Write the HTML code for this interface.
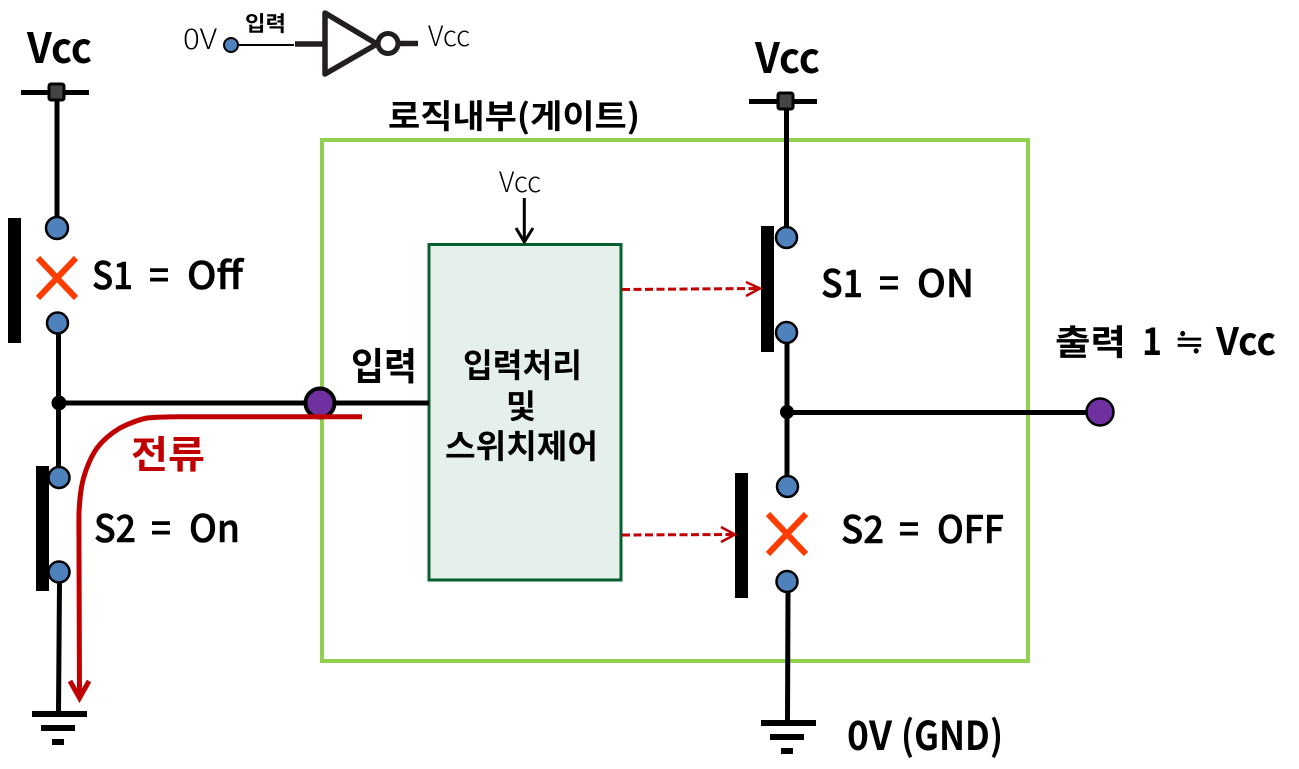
<!DOCTYPE html>
<html><head><meta charset="utf-8"><style>
html,body{margin:0;padding:0;background:#fff;width:1299px;height:769px;overflow:hidden}
svg{display:block}
text{font-family:"Noto Sans CJK KR","NanumGothic",sans-serif;fill:#000}
.b{font-weight:700}
.m{font-weight:500;stroke:#000;stroke-width:.6}
.l{font-weight:300}
</style></head><body>
<svg width="1299" height="769" viewBox="0 0 1299 769" xmlns="http://www.w3.org/2000/svg">
<defs>
<g id="gnd"><rect x="0" y="0" width="55" height="6"/><rect x="9" y="14" width="34" height="6"/><rect x="20" y="28" width="12" height="6"/></g>
</defs>
<!-- green frame -->
<rect x="322" y="140" width="706" height="521" fill="none" stroke="#92D050" stroke-width="4"/>
<!-- box -->
<rect x="429" y="244.500" width="192" height="335.500" fill="#E6F0EA" stroke="#06602F" stroke-width="3"/>

<!-- left circuit -->
<rect x="21" y="90" width="68" height="5"/>
<line x1="57" y1="92" x2="57" y2="222" stroke="#000" stroke-width="5"/>
<rect x="49" y="84" width="15" height="16" fill="#444" stroke="#000" stroke-width="3" rx="2"/>
<rect x="8" y="218" width="13" height="125"/>
<circle cx="57" cy="228" r="11" fill="#4F81BD" stroke="#000" stroke-width="2.500"/>
<path d="M38 258L76 298M76 258L38 298" stroke="#FF3C00" stroke-width="6" fill="none"/>
<circle cx="57.500" cy="323" r="10.500" fill="#4F81BD" stroke="#000" stroke-width="2.500"/>
<line x1="58.500" y1="333" x2="58.500" y2="470" stroke="#000" stroke-width="5"/>
<circle cx="59" cy="403" r="7.500"/>
<line x1="59" y1="403" x2="429" y2="403" stroke="#000" stroke-width="5"/>
<rect x="36" y="466" width="13" height="125"/>
<circle cx="59" cy="477.500" r="10.500" fill="#4F81BD" stroke="#000" stroke-width="2.500"/>
<circle cx="59" cy="572" r="10.500" fill="#4F81BD" stroke="#000" stroke-width="2.500"/>
<path d="M59.500 582L58.500 712" stroke="#000" stroke-width="5"/>
<use href="#gnd" x="32" y="711"/>
<circle cx="320" cy="403" r="14.500" fill="#7030A0" stroke="#000" stroke-width="4"/>
<!-- current -->
<path d="M362 416.700H180C165 416.700 156 417 147 418C137 420 128 424 120 428C110 434 103 440 97 448C90 458 86 469 83 480C80 492 79.500 503 79 513C78.800 525 79 535 79 547L79.500 696" fill="none" stroke="#C00000" stroke-width="5"/>
<path d="M70 681L79.500 698L89 681" fill="none" stroke="#C00000" stroke-width="5"/>

<!-- right circuit -->
<rect x="749" y="99" width="68" height="5"/>
<line x1="786.500" y1="102" x2="786.500" y2="232" stroke="#000" stroke-width="5"/>
<rect x="778" y="93" width="15" height="16" fill="#444" stroke="#000" stroke-width="3" rx="2"/>
<rect x="761" y="226" width="13" height="126"/>
<circle cx="786.500" cy="237.500" r="10.500" fill="#4F81BD" stroke="#000" stroke-width="2.500"/>
<circle cx="786.500" cy="332.500" r="10.500" fill="#4F81BD" stroke="#000" stroke-width="2.500"/>
<line x1="787" y1="343" x2="787" y2="480" stroke="#000" stroke-width="5"/>
<circle cx="787" cy="412" r="7"/>
<line x1="787" y1="412.500" x2="1090" y2="412.500" stroke="#000" stroke-width="5"/>
<circle cx="1100" cy="412" r="13.500" fill="#7030A0" stroke="#000" stroke-width="2.500"/>
<rect x="735" y="473" width="13" height="125"/>
<circle cx="787.500" cy="486.500" r="10.500" fill="#4F81BD" stroke="#000" stroke-width="2.500"/>
<path d="M768 514L806 554M806 514L768 554" stroke="#FF3C00" stroke-width="6" fill="none"/>
<circle cx="787" cy="581.500" r="10.500" fill="#4F81BD" stroke="#000" stroke-width="2.500"/>
<path d="M788 591L787.500 722" stroke="#000" stroke-width="5"/>
<use href="#gnd" x="761" y="720"/>

<!-- dashed red -->
<line x1="622" y1="289.500" x2="758" y2="288.500" stroke="#C00000" stroke-width="3" stroke-dasharray="8 3.500"/>
<path d="M746 282L760 288.500L746 296" fill="none" stroke="#C00000" stroke-width="2.500"/>
<line x1="622" y1="535" x2="734" y2="534.500" stroke="#C00000" stroke-width="3" stroke-dasharray="8 3.500"/>
<path d="M721 527L735 534.500L721 542" fill="none" stroke="#C00000" stroke-width="2.500"/>

<!-- vcc arrow into box -->
<line x1="524.300" y1="198" x2="524.300" y2="242" stroke="#000" stroke-width="3"/>
<path d="M516 228L524.300 242L533 228" fill="none" stroke="#000" stroke-width="3"/>

<!-- inverter -->
<circle cx="231" cy="45" r="7" fill="#4F81BD" stroke="#000" stroke-width="2"/>
<line x1="238" y1="45" x2="294" y2="45" stroke="#000" stroke-width="2"/>
<line x1="295" y1="44" x2="326" y2="44" stroke="#231F20" stroke-width="5.500"/>
<path d="M325 13V74L377 44Z" fill="#fff" stroke="#231F20" stroke-width="5.500" stroke-linejoin="round"/>
<circle cx="388" cy="43.500" r="10" fill="#fff" stroke="#231F20" stroke-width="5"/>
<line x1="399" y1="43.500" x2="418" y2="43.500" stroke="#231F20" stroke-width="5.500"/>

<!-- labels -->
<text class="b" x="27" y="63" font-size="42" textLength="65" lengthAdjust="spacingAndGlyphs">Vcc</text>
<text class="b" x="755" y="73" font-size="42" textLength="65" lengthAdjust="spacingAndGlyphs">Vcc</text>
<text class="l" x="183" y="49" font-size="28" textLength="34" lengthAdjust="spacingAndGlyphs">0V</text>
<text class="l" x="428" y="46" font-size="28" textLength="42" lengthAdjust="spacingAndGlyphs">Vcc</text>
<text class="l" x="499" y="192" font-size="28" textLength="42" lengthAdjust="spacingAndGlyphs">Vcc</text>
<text class="b" x="245" y="31" font-size="21" textLength="41" lengthAdjust="spacingAndGlyphs">입력</text>
<text class="b" x="388" y="128" font-size="33" textLength="252" lengthAdjust="spacingAndGlyphs">로직내부(게이트)</text>

<text class="m" x="92" y="289" font-size="38" textLength="41" lengthAdjust="spacingAndGlyphs">S1</text>
<text class="m" x="149" y="289" font-size="38" textLength="20" lengthAdjust="spacingAndGlyphs">=</text>
<text class="m" x="187" y="289" font-size="38" textLength="56" lengthAdjust="spacingAndGlyphs">Off</text>

<text class="m" x="94" y="542" font-size="38" textLength="42" lengthAdjust="spacingAndGlyphs">S2</text>
<text class="m" x="151" y="542" font-size="38" textLength="20" lengthAdjust="spacingAndGlyphs">=</text>
<text class="m" x="189" y="542" font-size="38" textLength="51" lengthAdjust="spacingAndGlyphs">On</text>

<text class="m" x="821" y="297" font-size="38" textLength="42" lengthAdjust="spacingAndGlyphs">S1</text>
<text class="m" x="879" y="297" font-size="38" textLength="20" lengthAdjust="spacingAndGlyphs">=</text>
<text class="m" x="917" y="297" font-size="38" textLength="57" lengthAdjust="spacingAndGlyphs">ON</text>

<text class="m" x="841" y="543" font-size="38" textLength="43" lengthAdjust="spacingAndGlyphs">S2</text>
<text class="m" x="899" y="543" font-size="38" textLength="20" lengthAdjust="spacingAndGlyphs">=</text>
<text class="m" x="937" y="543" font-size="38" textLength="67" lengthAdjust="spacingAndGlyphs">OFF</text>

<text class="b" x="1055" y="355" font-size="35" textLength="71" lengthAdjust="spacingAndGlyphs">출력</text>
<text class="b" x="1142" y="355" font-size="38" textLength="20" lengthAdjust="spacingAndGlyphs">1</text>
<text class="b" x="1176" y="356" font-size="38" textLength="27" lengthAdjust="spacingAndGlyphs">≒</text>
<text class="b" x="1216" y="355" font-size="38" textLength="60" lengthAdjust="spacingAndGlyphs">Vcc</text>

<text class="b" x="351" y="380" font-size="38" textLength="66" lengthAdjust="spacingAndGlyphs">입력</text>
<text class="b" x="463" y="377" font-size="33" textLength="119" lengthAdjust="spacingAndGlyphs">입력처리</text>
<text class="b" x="506" y="418" font-size="33" textLength="30" lengthAdjust="spacingAndGlyphs">및</text>
<text class="b" x="445" y="458" font-size="33" textLength="153" lengthAdjust="spacingAndGlyphs">스위치제어</text>
<text class="b" x="131" y="468" font-size="38" textLength="74" lengthAdjust="spacingAndGlyphs" style="fill:#C00000">전류</text>
<text class="b" x="847" y="750" font-size="40" textLength="45" lengthAdjust="spacingAndGlyphs">0V</text>
<text class="b" x="901" y="750" font-size="40" textLength="102" lengthAdjust="spacingAndGlyphs">(GND)</text>
</svg>
</body></html>
